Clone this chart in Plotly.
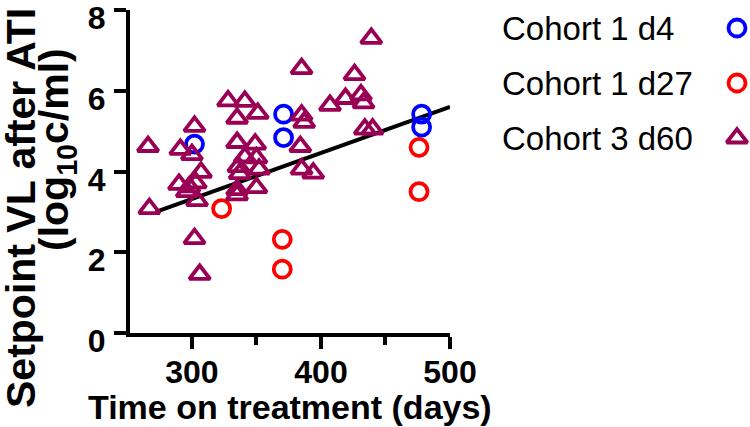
import plotly.graph_objects as go

FONT = "Arial, Liberation Sans, Helvetica, sans-serif"

# Cohort 1 d4 (blue open circles)
c1d4_days = [302, 371, 371, 478, 478]
c1d4_vl = [4.68, 5.42, 4.84, 5.42, 5.10]

# Cohort 1 d27 (red open circles)
c1d27_days = [323, 370, 370, 476, 476]
c1d27_vl = [3.08, 2.32, 1.58, 4.60, 3.50]

# Cohort 3 d60 (maroon open triangles)
c3d60_days = [266, 267, 291, 302, 300, 307, 290, 298, 303, 296, 304, 302, 306,
              328, 341, 335, 351, 335, 349, 341, 336, 350, 352, 337, 335, 350,
              335, 385, 385, 387, 384, 385, 394, 407, 419, 426, 431, 433, 434,
              440, 439]
c3d60_vl = [4.62, 3.08, 4.55, 5.12, 4.42, 3.98, 3.68, 3.62, 3.72, 3.50, 3.28,
            2.34, 1.45, 5.75, 5.74, 5.32, 5.44, 4.72, 4.68, 4.36, 4.12, 4.34,
            4.06, 3.95, 3.55, 3.60, 3.42, 6.55, 5.40, 5.22, 4.62, 4.06, 3.96,
            5.64, 5.81, 6.40, 5.90, 5.70, 5.05, 5.05, 7.30]

# linear fit drawn in the figure
fit_days = [272, 500]
fit_vl = [3.0, 5.6]

groups = ["Cohort 1 d4", "Cohort 1 d27", "Cohort 3 d60"]
colors = ["#0000FF", "#FF0000", "#990055"]
symbols = ["circle-open", "circle-open", "triangle-up-open"]
sizes = [17, 17, 18]

x_ticks = [300, 400, 500]
y_ticks = [0, 2, 4, 6, 8]

W, H = 750, 427
L, T, B = 130, 10, 333  # plot area edges in px
PW, PH = W - L, B - T


def px_x(x):
    return (x - L) / PW


def px_y(y):
    return (B - y) / PH


fig = go.Figure()

fig.add_trace(go.Scatter(
    x=fit_days, y=fit_vl, mode="lines",
    line={"color": "black", "width": 4}, showlegend=False,
))

row_h = 55.0
row0 = 28 - T
series = [(c1d4_days, c1d4_vl), (c1d27_days, c1d27_vl), (c3d60_days, c3d60_vl)]
for (xs, ys), name, col, sym, sz in zip(series, groups, colors, symbols, sizes):
    fig.add_trace(go.Scatter(
        x=xs, y=ys, mode="markers", name=name,
        marker={"symbol": sym, "size": sz, "color": col,
                "line": {"color": col, "width": 3.8}},
        showlegend=False,
    ))
    # legend symbol on the right of the text
    fig.add_trace(go.Scatter(
        x=[0], y=[name], mode="markers", xaxis="x2", yaxis="y2",
        marker={"symbol": sym, "size": sz, "color": col,
                "line": {"color": col, "width": 3.8}},
        showlegend=False, hoverinfo="skip",
    ))
    fig.add_annotation(
        x=px_x(500), xref="paper", y=name, yref="y2", text=name,
        showarrow=False, xanchor="left", yanchor="middle",
        font={"family": FONT, "size": 33, "color": "black"},
    )

axis_common = dict(
    showline=True, linecolor="black", linewidth=4, mirror=False,
    ticks="outside", ticklen=12, tickwidth=4, tickcolor="black",
    showgrid=False, zeroline=False, automargin=False,
    ticklabeloverflow="allow",
    tickfont={"family": FONT, "size": 32, "color": "black", "weight": "bold"},
)

sym_c = px_x(737)
fig.update_layout(
    width=W, height=H,
    margin={"l": L, "r": 0, "t": T, "b": H - B, "pad": 0},
    paper_bgcolor="white", plot_bgcolor="white",
    xaxis=dict(
        axis_common, domain=[0, 320 / PW], range=[252, 500],
        tickvals=x_ticks, ticklabelstandoff=-4,
        minor={"ticks": "outside", "ticklen": 8, "tickwidth": 4,
               "tickcolor": "black", "dtick": 50, "tick0": 0},
    ),
    yaxis=dict(axis_common, range=[0, 8.002], tickvals=y_ticks,
               ticklabelshift=8, ticklabelstandoff=2),
    xaxis2=dict(domain=[sym_c - 0.02, sym_c + 0.02], range=[-1, 1],
                visible=False, anchor="y2"),
    yaxis2=dict(domain=[0, 1], range=[(PH - row0) / row_h, -row0 / row_h],
                visible=False, type="category", categoryarray=groups,
                anchor="x2"),
    annotations=list(fig.layout.annotations) + [
        dict(x=px_x(290), y=px_y(407), xref="paper", yref="paper",
             text="Time on treatment (days)", showarrow=False,
             xanchor="center", yanchor="middle",
             font={"family": FONT, "size": 34, "color": "black", "weight": "bold"}),
        dict(x=px_x(21), y=px_y(208), xref="paper", yref="paper",
             text="Setpoint VL after ATI", textangle=-90, showarrow=False,
             xanchor="center", yanchor="middle",
             font={"family": FONT, "size": 41, "color": "black", "weight": "bold"}),
        dict(x=px_x(57), y=px_y(150), xref="paper", yref="paper",
             text="(log<sub>10</sub>c/ml)", textangle=-90, showarrow=False,
             xanchor="center", yanchor="middle",
             font={"family": FONT, "size": 41, "color": "black", "weight": "bold"}),
    ],
)

# drop the page's default body margin so the figure sits at the window corner
fig.write_html("out.html", config={"displayModeBar": False},
               post_script="document.body.style.margin='0';")
